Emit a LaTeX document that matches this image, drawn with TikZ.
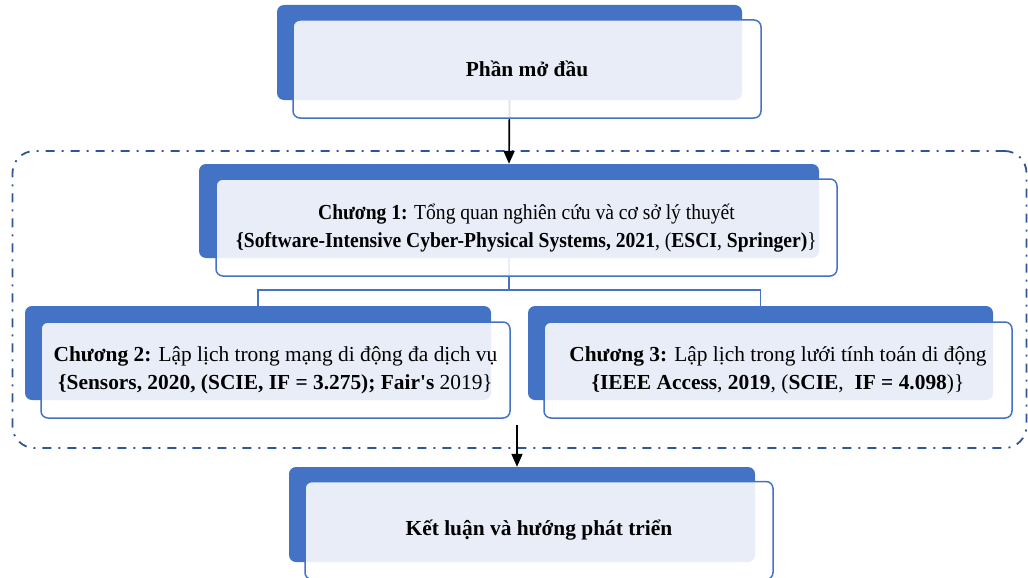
\documentclass[tikz,border=0pt]{standalone}
\usepackage{fontspec}
\setmainfont{Liberation Serif}
\usetikzlibrary{arrows.meta}
\definecolor{accent}{RGB}{68,114,196}
\definecolor{frame}{RGB}{47,85,151}

\begin{document}
\begin{tikzpicture}[x=1pt,y=-1pt,
  back/.style={fill=accent, rounded corners=7pt, inner sep=0pt},
  front/.style={draw=accent, line width=1.5pt, fill=white, fill opacity=0.88,
                rounded corners=7pt, inner sep=0pt},
  label/.style={font=\fontsize{21.4}{28}\selectfont, align=center, text=black},
  link/.style={draw=accent, line width=1.5pt},
  flow/.style={draw=black, line width=1.7pt, -{Triangle[length=13pt,width=11pt]}},
  group/.style={draw=frame, line width=1.8pt, rounded corners=22pt, inner sep=0pt,
                dash pattern=on 9pt off 7pt on 2pt off 7pt}]

\useasboundingbox (0,0) rectangle (1028,578);

% dash-dot frame round the three chapters
\node[group, minimum width=1014pt, minimum height=297pt] (chapters) at (519.5,299.5) {};

% coloured back plates
\node[back, minimum width=465pt, minimum height=95pt] (introB) at (509.5,52.5) {};
\node[back, minimum width=620pt, minimum height=94pt] (ch1B) at (509,211) {};
\node[back, minimum width=466pt, minimum height=94pt] (ch2B) at (258,353) {};
\node[back, minimum width=465pt, minimum height=94pt] (ch3B) at (760.5,353) {};
\node[back, minimum width=466pt, minimum height=95pt] (endB) at (522,514.5) {};

% connectors
\coordinate (split) at (509,290);
\coordinate (merge) at (517,425);
\draw[flow] (introB.south) -- (ch1B.north);
\draw[link] (ch1B.south) -- (split);
\draw[link] (split) -| (ch2B.north);
\draw[link] (split) -| (ch3B.north);
\draw[flow] (merge) -- (merge |- endB.north);

% front cards
\node[front, minimum width=468pt, minimum height=98pt] (introF) at (527,69) {};
\node[front, minimum width=621pt, minimum height=97pt] (ch1F) at (526.5,227.5) {};
\node[front, minimum width=469pt, minimum height=96pt] (ch2F) at (275.5,370) {};
\node[front, minimum width=468pt, minimum height=96pt] (ch3F) at (778,370) {};
\node[front, minimum width=468pt, minimum height=98pt] (endF) at (539,530.5) {};

% texts
\node[label] (intro) at (introF) {\textbf{Phần mở đầu}};
\node[label] (ch1) at (ch1F) {\scalebox{0.915}[1]{\begin{tabular}{@{}c@{}}
  \textbf{Chương 1:} Tổng quan nghiên cứu và cơ sở lý thuyết\\
  \textbf{\{Software-Intensive Cyber-Physical Systems, 2021}, (\textbf{ESCI}, \textbf{Springer)}\}
  \end{tabular}}};
\node[label] (ch2) at (ch2F) {\textbf{Chương 2:} Lập lịch trong mạng di động đa dịch vụ\\
  \textbf{\{Sensors, 2020, (SCIE, IF = 3.275); Fair\textquotesingle s} 2019\}};
\node[label] (ch3) at (ch3F) {\textbf{Chương 3:} Lập lịch trong lưới tính toán di động\\
  \textbf{\{IEEE Access}, \textbf{2019}, (\textbf{SCIE}, \ \textbf{IF = 4.098})\}};
\node[label] (end) at (endF) {\textbf{Kết luận và hướng phát triển}};
\end{tikzpicture}
\end{document}
